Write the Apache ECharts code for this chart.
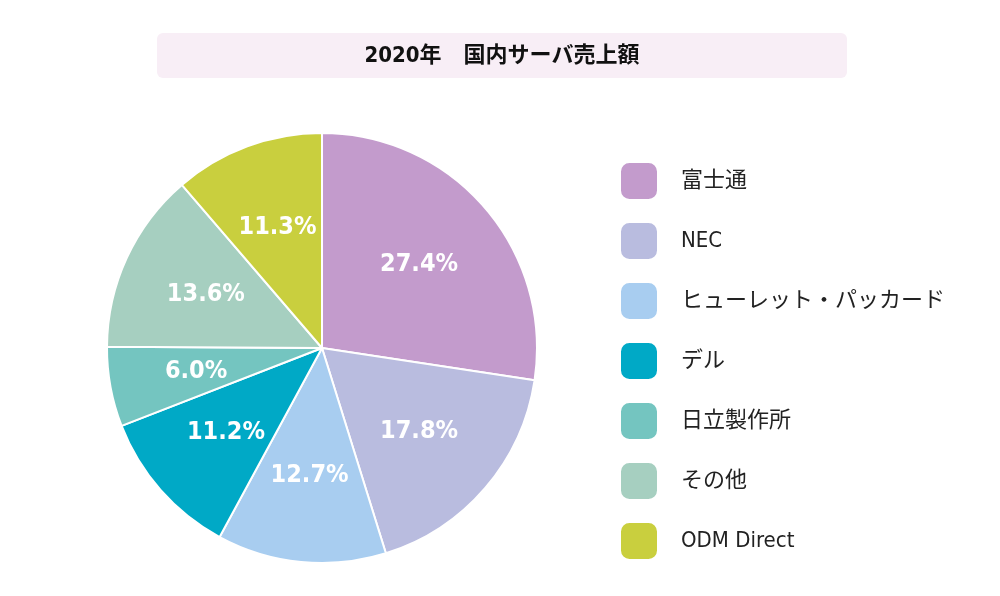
<!DOCTYPE html>
<html><head><meta charset="utf-8">
<script src="https://cdn.jsdelivr.net/npm/echarts@6/dist/echarts.min.js"></script>
<style>html,body{margin:0;background:#fff}#c{width:1000px;height:596px}</style>
</head><body><div id="c"></div>
<script>
const names = ["富士通","NEC","ヒューレット・パッカード","デル","日立製作所","その他","ODM Direct"];
const values = [27.4,17.8,12.7,11.2,6.0,13.6,11.3];
const colors = ["#c39bcc","#b9bcdf","#a8cdf0","#00a9c6","#74c5c0","#a6cfc0","#c9cf3e"];
const FONT = '"Liberation Sans Narrow","DejaVu Sans Condensed","Noto Sans CJK JP",sans-serif';
const data = names.map((n,i)=>({name:n,value:values[i]}));
const chart = echarts.init(document.getElementById('c'));
chart.setOption({
  animation:false,
  color:colors,
  graphic:[
    {type:'rect',shape:{x:157,y:33,width:690,height:45,r:6},style:{fill:'#f8eef6'}},
    {type:'text',x:502,y:56,style:{text:'2020年　国内サーバ売上額',fill:'#111',font:'bold 22px '+FONT,textAlign:'center',textVerticalAlign:'middle'}}
  ],
  legend:{orient:'vertical',left:614,top:156,itemWidth:38,itemHeight:38,itemGap:20,icon:'roundRect',
    data:names,textStyle:{fontSize:22,color:'#222',fontFamily:FONT,padding:[0,0,0,18]}},
  series:[
    {type:'pie',center:[322,348],radius:[0,215],startAngle:90,clockwise:true,data:data,label:{show:false},
     itemStyle:{borderColor:'#fff',borderWidth:2},silent:true},
    {type:'pie',center:[322,348],radius:[0,250],startAngle:90,clockwise:true,data:data,silent:true,
     itemStyle:{color:'rgba(0,0,0,0)'},
     label:{show:true,position:'inside',formatter:p=>p.value.toFixed(1)+'%',color:'#fff',fontSize:25,fontWeight:'bold',fontFamily:FONT}}
  ]
});
</script></body></html>
